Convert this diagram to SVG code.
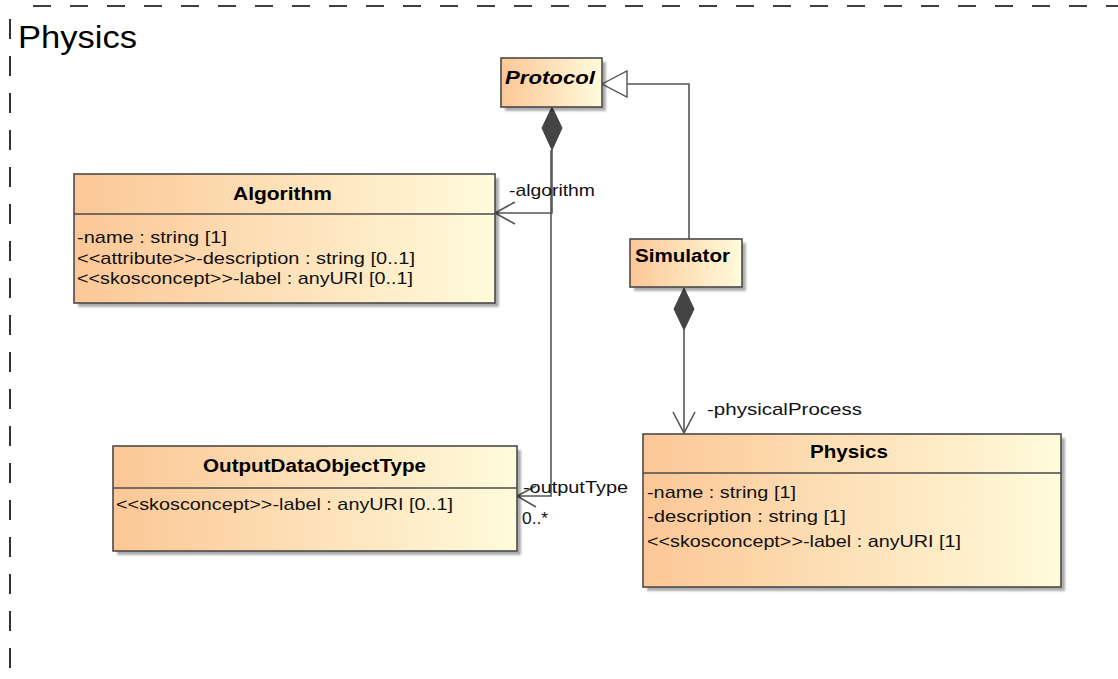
<svg xmlns="http://www.w3.org/2000/svg" width="1118" height="679" viewBox="0 0 1118 679">
<style>
.box{stroke:#4a4a4a;stroke-width:1.6;fill:url(#g)}
.sh{fill:#000;opacity:.32;filter:url(#blur)}
.div{stroke:#4a4a4a;stroke-width:1.4}
.t{font-family:"Liberation Sans",Arial,sans-serif;font-size:17px;fill:#111}
.b{font-family:"Liberation Sans",Arial,sans-serif;font-size:18px;font-weight:bold;fill:#000}
.con{fill:none;stroke:#555;stroke-width:1.6}
.dia{fill:#444;stroke:#444;stroke-width:1}
.frame{stroke:#000;stroke-width:1.6;fill:none}
</style>
<defs>
<linearGradient id="g" x1="0" y1="0" x2="1" y2="0">
<stop offset="0" stop-color="#FCC796"/>
<stop offset="1" stop-color="#FFFBDB"/>
</linearGradient>
<filter id="blur" x="-10%" y="-10%" width="120%" height="120%"><feGaussianBlur stdDeviation="1.2"/></filter>
</defs>
<rect width="1118" height="679" fill="#fff"/>
<g id="frame">
<line class="frame" x1="33" y1="6" x2="1118" y2="6" stroke-dasharray="18 19"/>
<line class="frame" x1="10" y1="19" x2="10" y2="679" stroke-dasharray="20 17"/>
<text x="18" y="48" font-family="Liberation Sans,Arial,sans-serif" font-size="32" textLength="119" lengthAdjust="spacingAndGlyphs">Physics</text>
</g>
<g id="connectors">
<polyline class="con" points="689,239 689,84 627,84"/>
<polygon points="602,84 627,71 627,97" fill="#fff" stroke="#555" stroke-width="1.4"/>
<polyline class="con" points="552,150 552,213 495,213"/>
<polyline class="con" points="515,202 495,213 515,224"/>
<polygon class="dia" points="552,107 562,128 552,150 542,128"/>
<polyline class="con" points="551,150 551,496 517,496"/>
<polyline class="con" points="536,486 517,496 536,507"/>
<polygon class="dia" points="684,288 694,309 684,330 674,309"/>
<polyline class="con" points="684,330 684,433"/>
<polyline class="con" points="673,412 684,433 695,412"/>
<text class="t" x="509" y="196" textLength="86" lengthAdjust="spacingAndGlyphs">-algorithm</text>
<text class="t" x="523" y="493" textLength="105" lengthAdjust="spacingAndGlyphs">-outputType</text>
<text class="t" x="522" y="524" textLength="26" lengthAdjust="spacingAndGlyphs">0..*</text>
<text class="t" x="707" y="415" textLength="155" lengthAdjust="spacingAndGlyphs">-physicalProcess</text>
</g>
<g id="protocol">
<rect class="sh" x="505" y="62" width="101" height="49"/>
<rect class="box" x="501" y="58" width="101" height="49"/>
<text class="b" x="505" y="84" font-style="italic" textLength="90" lengthAdjust="spacingAndGlyphs">Protocol</text>
</g>
<g id="algorithm">
<rect class="sh" x="78" y="178" width="421" height="129"/>
<rect class="box" x="74" y="174" width="421" height="129"/>
<line class="div" x1="74" y1="214" x2="495" y2="214"/>
<text class="b" x="233" y="200" textLength="99" lengthAdjust="spacingAndGlyphs">Algorithm</text>
<text class="t" x="77" y="243" textLength="150" lengthAdjust="spacingAndGlyphs">-name : string [1]</text>
<text class="t" x="77" y="264" textLength="338" lengthAdjust="spacingAndGlyphs">&lt;&lt;attribute&gt;&gt;-description : string [0..1]</text>
<text class="t" x="77" y="284" textLength="336" lengthAdjust="spacingAndGlyphs">&lt;&lt;skosconcept&gt;&gt;-label : anyURI [0..1]</text>
</g>
<g id="simulator">
<rect class="sh" x="634" y="243" width="112" height="48"/>
<rect class="box" x="630" y="239" width="112" height="48"/>
<text class="b" x="635" y="262" textLength="95" lengthAdjust="spacingAndGlyphs">Simulator</text>
</g>
<g id="outputdataobjecttype">
<rect class="sh" x="117" y="450" width="404" height="105"/>
<rect class="box" x="113" y="446" width="404" height="105"/>
<line class="div" x1="113" y1="488" x2="517" y2="488"/>
<text class="b" x="203" y="472" textLength="223" lengthAdjust="spacingAndGlyphs">OutputDataObjectType</text>
<text class="t" x="116" y="510" textLength="337" lengthAdjust="spacingAndGlyphs">&lt;&lt;skosconcept&gt;&gt;-label : anyURI [0..1]</text>
</g>
<g id="physics">
<rect class="sh" x="647" y="438" width="418" height="153"/>
<rect class="box" x="643" y="434" width="418" height="153"/>
<line class="div" x1="643" y1="473" x2="1061" y2="473"/>
<text class="b" x="810" y="458" textLength="78" lengthAdjust="spacingAndGlyphs">Physics</text>
<text class="t" x="647" y="498" textLength="149" lengthAdjust="spacingAndGlyphs">-name : string [1]</text>
<text class="t" x="647" y="522" textLength="199" lengthAdjust="spacingAndGlyphs">-description : string [1]</text>
<text class="t" x="647" y="547" textLength="314" lengthAdjust="spacingAndGlyphs">&lt;&lt;skosconcept&gt;&gt;-label : anyURI [1]</text>
</g>
</svg>
